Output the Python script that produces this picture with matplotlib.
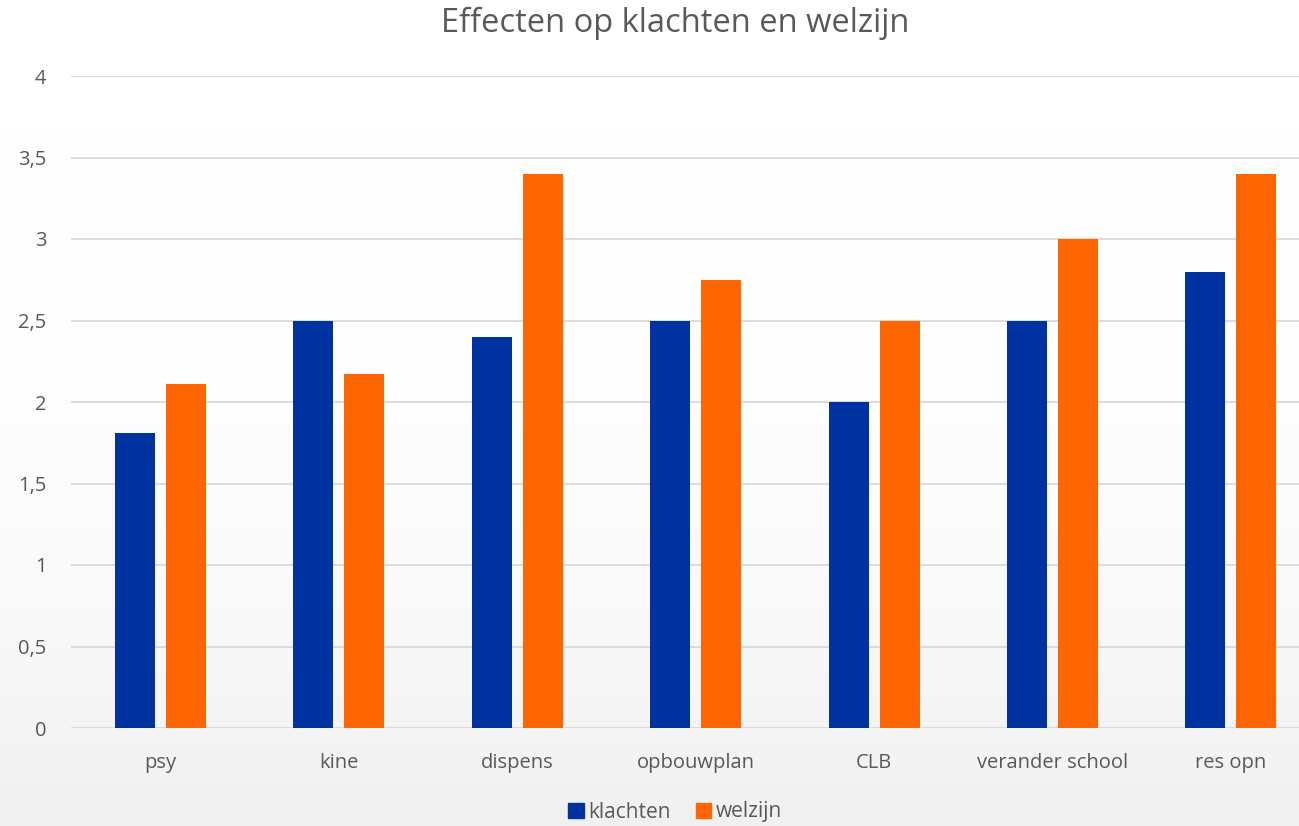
import numpy as np
import matplotlib
matplotlib.use("Agg")
from matplotlib import pyplot as plt
from matplotlib.patches import Patch

# data
categories = ["psy", "kine", "dispens", "opbouwplan", "CLB", "verander school", "res opn"]
klachten = [1.81, 2.5, 2.4, 2.5, 2.0, 2.5, 2.8]
welzijn = [2.11, 2.17, 3.4, 2.75, 2.5, 3.0, 3.4]
yticks = [0, 0.5, 1, 1.5, 2, 2.5, 3, 3.5, 4]
ylabels = ["0", "0,5", "1", "1,5", "2", "2,5", "3", "3,5", "4"]

blue = "#0033a0"
orange = "#ff6600"
txt = "#595959"

plt.rcParams['font.family'] = ['Open Sans', 'DejaVu Sans']

fig = plt.figure(figsize=(12.99, 8.26), dpi=100)

# background gradient (white -> light grey)
bg = fig.add_axes([0, 0, 1, 1], zorder=-10)
grad = np.linspace(0, 1, 256).reshape(-1, 1)
grad = grad ** 3.0
cmap = matplotlib.colors.LinearSegmentedColormap.from_list("bg", ["#ffffff", "#f0f0f0"])
bg.imshow(grad, aspect="auto", cmap=cmap, extent=[0, 1, 0, 1], origin="upper")
bg.axis("off")

ax = fig.add_axes([71.3 / 1299, 1 - 728 / 826, 1 - 71.3 / 1299, (728 - 76) / 826])
ax.patch.set_alpha(0)

x = np.arange(len(categories))
w = 0.224
off = 0.143
ax.bar(x - off, klachten, w, color=blue, zorder=3)
ax.bar(x + off, welzijn, w, color=orange, zorder=3)

ax.set_xlim(-0.5, (1299 - 71.3) / 178.4 - 0.5)
ax.set_ylim(0, 4)
ax.set_yticks(yticks)
ax.set_yticklabels(ylabels)
ax.set_xticks(x)
ax.set_xticklabels(categories)
ax.grid(axis="y", color="#d9d9d9", linewidth=1.3, zorder=0)
for s in ax.spines.values():
    s.set_visible(False)
ax.tick_params(length=0, labelsize=14.5, labelcolor=txt)
ax.tick_params(axis="y", pad=18)
ax.tick_params(axis="x", pad=18)

fig.text(675 / 1299, 1 - 23 / 826, "Effecten op klachten en welzijn", ha="center", va="center",
         fontsize=23.5, color=txt)

handles = [Patch(color=blue, label="klachten"), Patch(color=orange, label="welzijn")]
fig.legend(handles=handles, loc="center", bbox_to_anchor=(675 / 1299, 1 - 812 / 826), ncol=2,
           frameon=False, fontsize=15, labelcolor=txt, handlelength=0.75, handleheight=0.75,
           handletextpad=0.2, columnspacing=1.2)

fig.savefig("out.png", dpi=100)
